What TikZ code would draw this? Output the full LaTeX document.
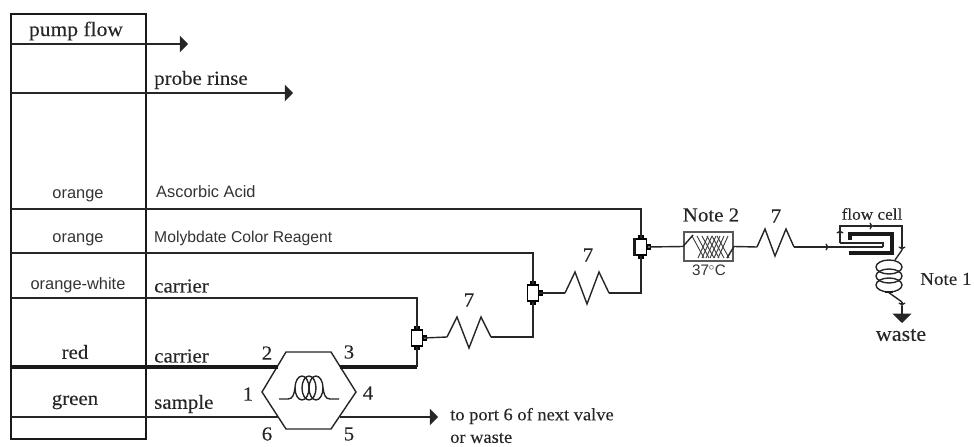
\documentclass[tikz,border=0pt]{standalone}
\usepackage{fontspec}
\usepackage{xcolor}
\usetikzlibrary{arrows.meta,positioning,calc}
\setmainfont{Liberation Serif}
\newfontfamily\slabfont[FakeStretch=1.05,FakeBold=0.15]{Liberation Serif}
\newfontfamily\armfont{Liberation Sans}
\definecolor{linegray}{gray}{0.15}
\tikzset{
  tube/.style={line width=1.2pt, draw=linegray},
  bigtube/.style={line width=2.6pt, draw=black!90},
  bigarrow/.style={-{Triangle[length=7pt,width=14pt]}},
  tick/.style={-{To[length=3pt,width=6pt]}},
  serif/.style={inner sep=0pt, text=black!85, font=\slabfont\fontsize{17}{19}\selectfont},
  sans/.style={inner sep=0pt, text=black!80, font=\armfont\fontsize{14}{16}\selectfont},
  tee/.style={draw, line width=1.3pt, fill=white, minimum width=0.33cm, minimum height=0.48cm, inner sep=0pt},
}

\begin{document}
\begin{tikzpicture}[x=0.03cm, y=-0.03cm]
\useasboundingbox (0,0) rectangle (974,447);

% Pump tube block
\draw[line width=2.5pt, black!90] (11,14) rectangle (146,439);
\node[serif, font=\slabfont\fontsize{17.5}{19}\selectfont] (pumplabel) at (76,31) {pump flow};
\node[sans] (orangeA) at (78,196) {orange};
\node[sans] (orangeB) at (78,240) {orange};
\node[sans] (orangewhite) at (78,285) {orange-white};
\node[serif] (red) at (75,352) {red};
\node[serif] (green) at (75,402) {green};

% Reagent labels
\node[serif, anchor=west] (rinse) at (154,80) {probe rinse};
\node[sans, anchor=west] (ascorbic) at (156,192) {Ascorbic Acid};
\node[sans, anchor=west, font=\armfont\fontsize{13.4}{15}\selectfont] (molybdate) at (154,238) {Molybdate Color Reagent};
\node[serif, anchor=west] (carrierA) at (154,286) {carrier};
\node[serif, anchor=west] (carrierB) at (154,356) {carrier};
\node[serif, anchor=west] (sample) at (154,404) {sample};

% Free line ends on the block
\coordinate (pumpin) at (11,44);
\coordinate (pumpend) at (188,44);
\coordinate (rinsein) at (11,93);
\coordinate (rinseend) at (293,93);
\coordinate (ascin) at (11,209);
\coordinate (ascturn) at (641,209);
\coordinate (molyin) at (11,253);
\coordinate (molyturn) at (533,253);
\coordinate (carrin) at (11,298);
\coordinate (carrturn) at (417,298);
\coordinate (redin) at (11,367);
\coordinate (redturn) at (417,367);
\coordinate (sampin) at (11,417);

% Injection valve
\coordinate (v1) at (262,392);
\coordinate (v2) at (286,352);
\coordinate (v3) at (331,352);
\coordinate (v4) at (356,392);
\coordinate (v5) at (331,429);
\coordinate (v6) at (286,429);
\draw[tube, fill=white] (v1) -- (v2) -- (v3) -- (v4) -- (v5) -- (v6) -- cycle;
\coordinate (vred) at (278,367);
\coordinate (vout) at (340,367);
\coordinate (vsamp) at (278,417);
\coordinate (vnext) at (340,417);
\coordinate (nextend) at (438,417);
\node[serif] (p1) at (248,394) {1};
\node[serif] (p2) at (267,353) {2};
\node[serif] (p3) at (349,352) {3};
\node[serif] (p4) at (368,393) {4};
\node[serif] (p5) at (349,434) {5};
\node[serif] (p6) at (267,434) {6};
\node[serif, anchor=west, font=\slabfont\fontsize{15}{17}\selectfont] (nextA) at (450,416) {to port 6 of next valve};
\node[serif, anchor=west, font=\slabfont\fontsize{15}{17}\selectfont] (nextB) at (450,438) {or waste};

% Sample loop
\draw[tube] (279,399) -- (288,399) .. controls (293,399) and (294,394) .. (295,388);
\draw[tube] (323,388) .. controls (324,394) and (325,399) .. (330,399) -- (339,399);
\foreach \cx in {302,309,316} {
  \draw[tube] (\cx,388) ellipse (7 and 12);
}

% Mixing tees
\node[tee] (teeA) at (417,338) {};
\node[tee] (teeB) at (533,293) {};
\node[tee] (teeC) at (641,247) {};
\draw[line width=2.4pt, black!90] (teeC.north west) -- (teeC.south west);
\foreach \t in {teeA,teeB,teeC} {
  \draw[line width=1pt, fill=white] ($(\t.north)+(-2,0)$) rectangle ++(4,-3);
  \draw[line width=1pt, fill=white] ($(\t.south)+(-2,0)$) rectangle ++(4,3);
  \draw[line width=1pt, fill=white] ($(\t.east)+(0,-2)$) rectangle ++(3,4);
}

% Delay coils
\coordinate (coilAin) at (447,337);
\coordinate (coilAout) at (491,337);
\coordinate (coilBin) at (565,293);
\coordinate (coilBout) at (609,293);
\coordinate (coilCin) at (757,247);
\coordinate (coilCout) at (794,247);
\draw[tube] (coilAin) -- (457,317) -- (469,348) -- (481,317) -- (coilAout);
\draw[tube] (coilBin) -- (575,272) -- (587,304) -- (599,272) -- (coilBout);
\draw[tube] (coilCin) -- (765,229) -- (775,256) -- (786,229) -- (coilCout);
\node[serif] (sevenA) at (469,300) {7};
\node[serif] (sevenB) at (588,255) {7};
\node[serif] (sevenC) at (776,216) {7};

% Heater
\node[draw=black!65, line width=1.7pt, minimum width=1.47cm, minimum height=0.87cm, inner sep=0pt] (heater) at (708.5,246.5) {};
\foreach \i in {0,...,5} {
  \draw[line width=0.8pt, black!75] (692+\i*5,236) -- (704+\i*5,258);
  \draw[line width=0.8pt, black!75] (698+\i*4,258) -- (708+\i*4,236);
}
\draw[tube] (heater.west) -- (693,235);
\draw[tube] (727,258) -- (heater.east);
\node[serif] (note2) at (711,215) {Note 2};
\node[sans, font=\armfont\fontsize{13}{15}\selectfont] (temp) at (709,270) {37$^{\circ}$C};

% Flow cell
\coordinate (cellmid) at (829,247);
\coordinate (cellin) at (883,247);
\coordinate (cellturn) at (883,243);
\coordinate (cellback) at (840,243);
\coordinate (celltopL) at (840,226);
\coordinate (celltopR) at (902,226);
\coordinate (cellexit) at (902,250);
\draw[line width=2.6pt, black!90] (850,240) -- (850,234) -- (892,234) -- (892,253) -- (849,253);
\draw[tube] (cellin) -- (cellturn) -- (cellback);
\draw[tube, tick] (cellback) -- (840,230);
\draw[tube] (840,231) -- (celltopL) -- (871,226);
\draw[tube, tick] (celltopL) -- (873,226);
\draw[tube] (873,226) -- (celltopR) -- (902,248);
\draw[tube, tick] (902,244) -- (cellexit);
\node[serif, font=\slabfont\fontsize{14}{16}\selectfont] (celllabel) at (872,214) {flow cell};

% Detector coil
\coordinate (wcoilin) at (895,260);
\coordinate (wcoilout) at (888,292);
\coordinate (wastetick) at (902,306);
\coordinate (wasteend) at (902,323);
\draw[tube] (cellexit) -- (wcoilin);
\foreach \cy in {267,276,285} {
  \draw[tube] (889,\cy) ellipse (13 and 7);
}
\draw[line width=2.4pt, black!90] (885,292) -- (893,292);
\draw[tube] (wcoilout) -- (902,302);
\draw[tube, tick] (902,302) -- (wastetick);
\draw[tube, -{Triangle[length=8pt,width=16pt]}] (wastetick) -- (wasteend);
\node[serif, font=\slabfont\fontsize{18}{20}\selectfont] (wastelabel) at (901,335) {waste};
\node[serif, anchor=west, font=\slabfont\fontsize{15.5}{17}\selectfont] (note1) at (920,279) {Note 1};

% Tubing
\draw[tube, bigarrow] (pumpin) -- (pumpend);
\draw[tube, bigarrow] (rinsein) -- (rinseend);
\draw[tube] (ascin) -- (ascturn) -- (teeC.north);
\draw[tube] (molyin) -- (molyturn) -- (teeB.north);
\draw[tube] (carrin) -- (carrturn) -- (teeA.north);
\draw[bigtube] (redin) -- (vred);
\draw[bigtube] (vout) -- (redturn);
\draw[tube] (redturn) -- (teeA.south);
\draw[tube] (sampin) -- (vsamp);
\draw[tube, bigarrow] (vnext) -- (nextend);
\draw[tube] (teeA.east) -- (coilAin);
\draw[tube] (coilAout) -| (teeB.south);
\draw[tube] (teeB.east) -- (coilBin);
\draw[tube] (coilBout) -| (teeC.south);
\draw[tube] (teeC.east) -- (heater.west);
\draw[tube] (heater.east) -- (coilCin);
\draw[tube] (coilCout) -- (cellin);
\draw[tube, tick] (coilCout) -- (cellmid);

\end{tikzpicture}
\end{document}
